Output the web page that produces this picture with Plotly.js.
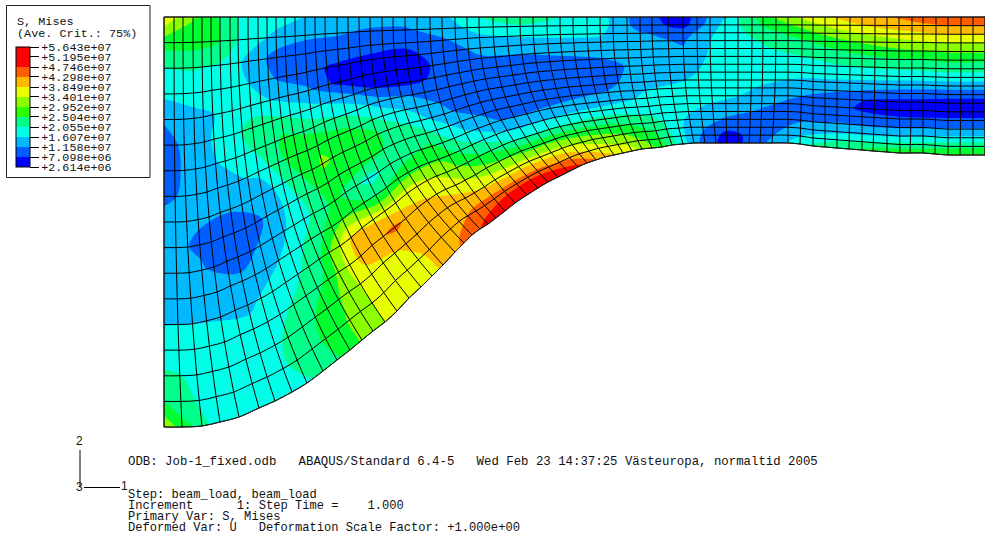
<!DOCTYPE html>
<html><head><meta charset="utf-8">
<script src="https://cdn.plot.ly/plotly-3.0.1.min.js"></script>
<style>html,body{margin:0;padding:0;background:#fff}#g{width:985px;height:536px}</style>
</head><body><div id="g"></div>
<script>
// mesh boundary nodes
const topX=[164,174,183,193,202,211,220,230,238,248,258,267,276,285,295,305,315,325,337,348,359,370,382,393,405,417,430,442,455,467,479,493,507,520,533,547,560,573,587,600,613,627,640,652,668,683,697,710,725,738,752,763,776,788,802,813,825,837,850,862,875,887,899,912,923,936,948,961,973,985];
const botX=[164,182,202,220,239,259,275,292,307,323,337,350,362,373,385,397,409,421,432,443,455,464,472,480,488,496,505,515,527,538,548,558,568,578,587,596,605,614,623,632,642,652,662,672,683,694,705,716,727,738,749,760,772,788,800,813,825,837,849,862,873,887,900,910,923,935,948,960,973,985];
const botY=[427,427,426,422,417,408,401,392,383,371,360,350,340,331,322,311,298,287,276,265,252,243,235,229,224,218,211,203,195,188,182,177,172,167,163,160,157,155,153,151,149,148,147,145,144,143,143,143,143,143,143,143,143,143,144,146,147,148,149,150,151,152,153,153,153,154,155,155,155,155];
const topY=17;
const rowCount=17;

// Mises stress (units of 1e6) at sampled mesh stations, top row to bottom row
const stationA=[0,3,6,9,12,15,18,21,24,27,30,33,36,39,42,45,48,51,54,57,60,63,66,69];
const stationB=[0,1,2,3,4,5,6,7,8,9,10,11,12,13,14,15,16];
const s00=[38,27,20.5,17,12,10,10,11,12.5,13,13.5,14.5,16,17.5,21.5,25,33];
const s03=[30,27,21,17.5,15,13.5,13,12.5,12,11,12,13.5,16,17,19,17.5,17.5];
const s06=[24.5,25,20,17.5,16.5,18,17,14,12,9,9,13,15.5,17,18,18,17];
const s09=[18.5,18,15,16,18.5,22,21,17.5,12.5,12,14,16,18,21,23,23.5,21.5];
const s12=[18,15,9.5,11,15,21,26,26,23,20,19,22,24,26,29,30,30];
const s15=[16,12.5,9,8,12.5,17.5,23,29,30,28,26.5,29,39,40,37,36,36];
const s18=[14.5,12,9.5,6.5,5.5,14,20,26,28,27,19,24,36,44,39,38,37];
const s21=[13.5,11,8,6.5,5,7,14,19,24,24,23,28,36,39,39.5,41,44];
const s24=[13.5,11,8,6,5,6,11,14.5,17.5,22,26,29,32.5,36,40,44,49];
const s27=[15,13.5,11,9,8.5,8.5,9,9.5,11,14,17,21.5,26,31,37,45,54];
const s30=[21,18,15,13,11,9.5,8.5,8,8,9,11.5,15.5,21,28,36,45,54];
const s33=[23,20,16.5,14,11.5,10,8.5,8,8,9,12,16,21,28,35,42,49];
const s36=[20.5,19.5,17,14.5,12.5,10.5,9,8,8.5,10.5,13,17,21.5,27,32,36,41];
const s39=[18,18,16.5,15,13,11.5,10,9.5,10,12,14.5,18,22,26,29.5,33,36];
const s42=[9,9.5,12,13,13,12.5,13,14,15,16,17,18.5,20,22.5,24.5,26,28];
const s45=[5,5.5,9.5,11,12,13,14,15,16,17,18,17.5,16.5,15,14,13.5,13];
const s48=[16,17.5,18,18.5,18.5,18.5,18.5,18.5,18,18,17,15,13,11,8.5,5.5,4.5];
const s51=[28,25.5,23,21,20,19,18.5,18,17,15.5,14.5,12.5,11,9.5,8.5,9,10];
const s54=[35,31,27.5,24.5,22.5,20.5,19,17.5,15.5,13.5,11.5,10,10,11,13.5,16,20];
const s57=[39,36,32,28,25,22.5,20,18,15,12,9,8,9,12,15,20,24];
const s60=[42,39.5,35,31,27.5,24,21,18,14.5,10.5,6.5,6,8,11,15,21,27];
const s63=[44,42,37,33,29,25,21.5,18,14,9.5,6,5.5,7.5,11,15.5,22,28];
const s66=[47,43,38.5,34,30,26,22,18.5,13.5,9,5,5,8,12,17,23.5,30];
const s69=[47,43,38.5,34,30,26,22,18.5,13.5,9,5,5,8,12,17,24,30];
const stressColumns=[s00,s03,s06,s09,s12,s15,s18,s21,s24,s27,s30,s33,s36,s39,s42,s45,s48,s51,s54,s57,s60,s63,s66,s69];

const legendValues=[56.43,51.95,47.46,42.98,38.49,34.01,29.52,25.04,20.55,16.07,11.58,7.098,2.614];
const legendLabels=['+5.643e+07','+5.195e+07','+4.746e+07','+4.298e+07','+3.849e+07','+3.401e+07','+2.952e+07','+2.504e+07','+2.055e+07','+1.607e+07','+1.158e+07','+7.098e+06','+2.614e+06'];
const bandColors=['#0000ff','#005dff','#00b9ff','#00ffe8','#00ff8b','#00ff2e','#2eff00','#8bff00','#e8ff00','#ffb900','#ff5d00','#ff0000'];

const infoLines=[
 ['ODB: Job-1_fixed.odb   ABAQUS/Standard 6.4-5   Wed Feb 23 14:37:25 Västeuropa, normaltid 2005',126,462,12.37],
 ['Step: beam_load, beam_load',126,495,12.1],
 ['Increment      1: Step Time =    1.000',126,506,12.1],
 ['Primary Var: S, Mises',126,517,12.1],
 ['Deformed Var: U   Deformation Scale Factor: +1.000e+00',126,528,12.1]
];

// mesh build: column lines leave the lower edge steeply, then straighten
const aIdx=topX.map((_,i)=>i), bIdx=[...Array(rowCount).keys()];
const meshX=[],meshY=[];
bIdx.forEach(j=>{
  const f=j/(rowCount-1), s=Math.pow(f,2.4);
  meshX.push(aIdx.map(i=>topX[i]+(botX[i]-topX[i])*s));
  meshY.push(aIdx.map(i=>topY+(botY[i]-topY)*f));
});
const zGrid=stationB.map((_,r)=>stressColumns.map(c=>c[r]));

const scale=[];
bandColors.forEach((c,i)=>{scale.push([i/12,c]);scale.push([(i+1)/12,c]);});
const axisCommon={tickmode:'linear',tick0:0,dtick:1,showticklabels:'none',showgrid:true,gridcolor:'#000',gridwidth:1,
  minorgridcount:0,startline:true,endline:true,startlinecolor:'#222',endlinecolor:'#222',startlinewidth:1,endlinewidth:1,title:{text:''}};

const traces=[
 {type:'carpet',carpet:'mesh',a:aIdx,b:bIdx,x:meshX,y:meshY,aaxis:axisCommon,baxis:axisCommon,hoverinfo:'skip'},
 {type:'contourcarpet',carpet:'mesh',a:stationA,b:stationB,z:zGrid,autocontour:false,
  contours:{start:2.614,end:56.43,size:4.485,coloring:'fill',showlines:false},line:{width:0},
  zmin:2.614,zmax:56.43,colorscale:scale,
  colorbar:{x:16/985,xanchor:'left',xpad:0,y:1-47/536,yanchor:'top',ypad:0,len:120,lenmode:'pixels',thickness:14,thicknessmode:'pixels',
    outlinecolor:'#000',outlinewidth:1,tickmode:'array',tickvals:legendValues,ticktext:legendLabels,ticks:'outside',ticklen:9,tickcolor:'#000',
    tickfont:{family:'Liberation Mono',size:11.7,color:'#111'}}}
];

const txt=(text,x,y,size,fam)=>({xref:'x',yref:'y',x,y,text,showarrow:false,xanchor:'left',yanchor:'middle',
  font:{family:fam||'Liberation Mono',size:size||11.8,color:'#111'}});
const annotations=infoLines.map(l=>txt(l[0].replace(/ /g,'\u00a0'),l[1],l[2],l[3]));
annotations.push(txt('S, Mises',15,22),txt('(Ave.\u00a0Crit.:\u00a075%)',15,34));
annotations.push(txt('2',74,441,12,'Liberation Sans'),txt('3',74,487,12,'Liberation Sans'),txt('1',119,486,12,'Liberation Sans'));

const layout={width:985,height:536,margin:{l:0,r:0,t:0,b:0},paper_bgcolor:'#fff',plot_bgcolor:'#fff',showlegend:false,
 xaxis:{range:[0,985],visible:false,fixedrange:true},yaxis:{range:[536,0],visible:false,fixedrange:true},
 annotations,
 shapes:[
  {type:'rect',xref:'x',yref:'y',x0:6.5,x1:150,y0:5.5,y1:177.5,line:{color:'#222',width:1},fillcolor:'rgba(0,0,0,0)'},
  {type:'line',xref:'x',yref:'y',x0:80,x1:80,y0:450,y1:487,line:{color:'#000',width:1}},
  {type:'line',xref:'x',yref:'y',x0:84,x1:120,y0:487.5,y1:487.5,line:{color:'#000',width:1}}
 ]};
Plotly.newPlot('g',traces,layout,{staticPlot:true,displayModeBar:false});
</script></body></html>
